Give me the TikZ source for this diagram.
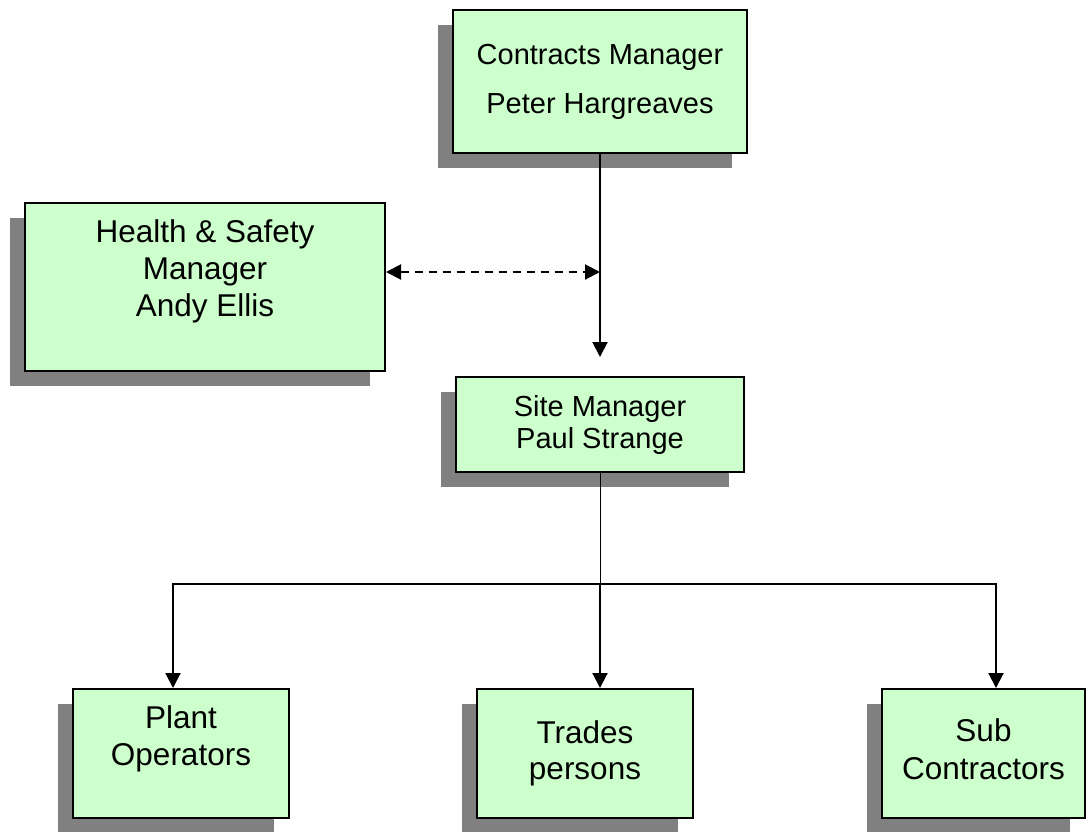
\documentclass[tikz,border=0pt]{standalone}
\usepackage{fontspec}
\setmainfont{Liberation Sans}
\usetikzlibrary{arrows.meta,shadows}
\definecolor{boxgreen}{RGB}{204,255,204}
\definecolor{shadowgrey}{RGB}{128,128,128}
\newcommand{\lowpad}[1]{\rule[-#1]{0pt}{0pt}}

\begin{document}
\begin{tikzpicture}[x=1pt, y=-1pt,
    small/.style={font=\fontsize{29}{32}\selectfont},
    big/.style={font=\fontsize{31.5}{37}\selectfont},
    post/.style={draw, line width=2pt, fill=boxgreen, align=center, inner sep=0pt,
        drop shadow={shadow xshift=-15pt, shadow yshift=-15pt, fill=shadowgrey, opacity=1}},
    link/.style={line width=2pt, -{Triangle[length=15pt, width=15pt]}},
]
\useasboundingbox (0,0) rectangle (1087,831);

\node[post, small, font=\fontsize{29}{49}\selectfont, minimum width=294pt, minimum height=143pt] (cm) at (600,81.5) {Contracts Manager\\Peter Hargreaves};
\node[post, big, minimum width=360pt, minimum height=168pt] (hs) at (205,287) {Health \& Safety\\Manager\\Andy Ellis\lowpad{37pt}};
\node[post, small, minimum width=288pt, minimum height=95pt] (site) at (600,424.5) {Site Manager\\Paul Strange};

\node[post, big, minimum width=216pt, minimum height=129pt] (plant) at (181,753.5) {Plant\\Operators\lowpad{35pt}};
\node[post, big, font=\fontsize{31.5}{36}\selectfont, minimum width=216pt, minimum height=129pt] (trades) at (585,753.5) {Trades\\persons};
\node[post, big, font=\fontsize{31.5}{38}\selectfont, minimum width=203pt, minimum height=129pt] (sub) at (983.5,753.5) {Sub\\Contractors\lowpad{8pt}};

\coordinate (meet) at (600,272);
\coordinate (tip) at (600,357);
\coordinate (bus) at (600,584);

\draw[link] (cm.south) -- (tip);
\draw[line width=2pt, dash pattern=on 8pt off 6pt, {Triangle[length=15pt, width=15pt]}-{Triangle[length=15pt, width=15pt]}] (meet -| hs.east) -- (meet);
\draw[line width=1pt] (site.south) -- (bus);
\draw[link] (bus) -| ([xshift=-8pt]plant.north);
\draw[link] (bus) -- (bus |- trades.north);
\draw[link] (bus) -| ([xshift=12.5pt]sub.north);
\end{tikzpicture}
\end{document}
